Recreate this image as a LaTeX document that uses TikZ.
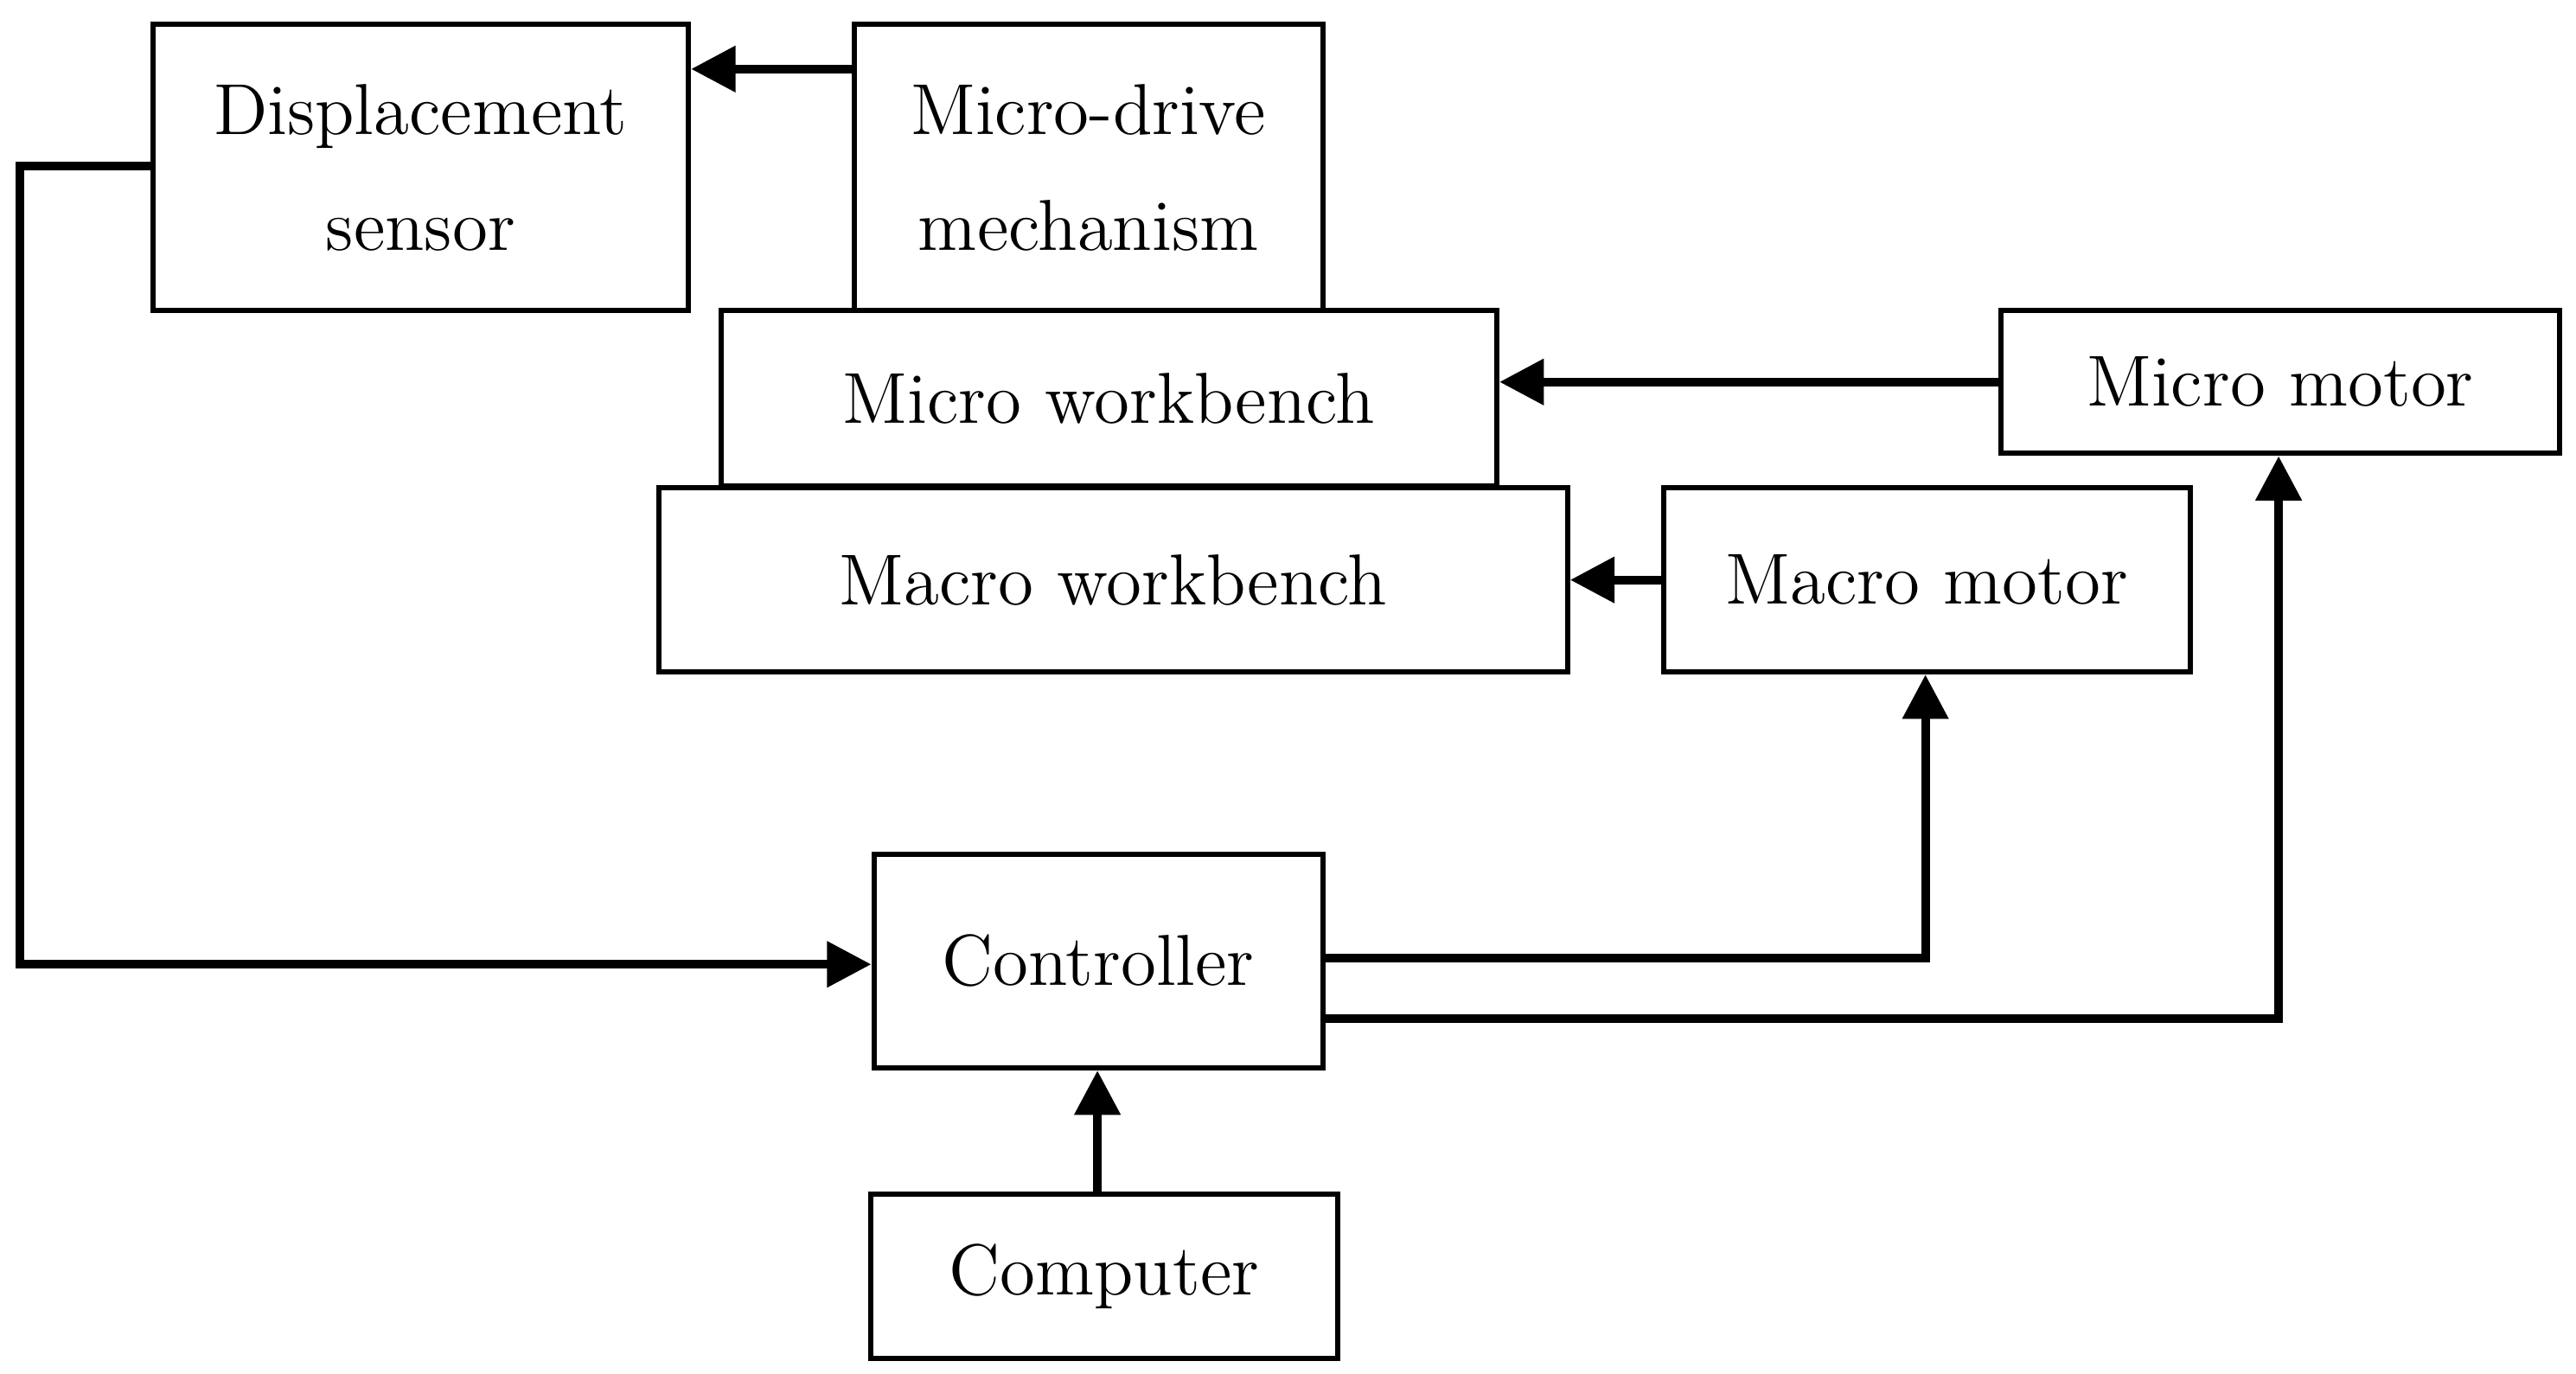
\documentclass[tikz,border=0pt]{standalone}
\usetikzlibrary{arrows.meta}
\begin{document}
\begin{tikzpicture}[x=0.01cm,y=-0.01cm,
  box/.style={draw, line width=0.9pt, inner sep=0pt, align=center, font=\fontsize{12.5}{20}\selectfont},
  arr/.style={line width=1.5pt, -{Triangle[length=0.27cm,width=0.27cm]}}]
\useasboundingbox (0,0) rectangle (1568,836);
\node[box, minimum width=3.26cm, minimum height=1.74cm] (ds) at (256,102) {Displacement\\sensor};
\node[box, minimum width=2.85cm, minimum height=1.74cm] (md) at (662.5,102) {Micro-drive\\mechanism};
\node[box, minimum width=4.72cm, minimum height=1.07cm] (mwb) at (675,242.5) {Micro workbench};
\node[box, minimum width=5.53cm, minimum height=1.12cm] (Mwb) at (677.5,353) {Macro workbench};
\node[box, minimum width=3.40cm, minimum height=0.87cm] (mm) at (1388,232.5) {Micro motor};
\node[box, minimum width=3.20cm, minimum height=1.12cm] (Mm) at (1173,353) {Macro motor};
\node[box, minimum width=2.73cm, minimum height=1.30cm] (ctl) at (668.5,585) {Controller};
\node[box, minimum width=2.84cm, minimum height=1.00cm] (cmp) at (672,777) {Computer};
\draw[arr] (md.west |- 0,42) -- (ds.east |- 0,42);
\draw[arr] (mm.west) -- (mwb.east |- mm.west);
\draw[arr] (Mm.west) -- (Mwb.east);
\draw[arr] (ds.west |- 0,101) -- (12,101) -- (12,587) -- (ctl.west |- 0,587);
\draw[arr] (ctl.east |- 0,583) -- (1172,583) -- (Mm.south -| 1172,0);
\draw[arr] (ctl.east |- 0,620) -- (1387,620) -- (mm.south -| 1387,0);
\draw[arr] (cmp.north -| 668,0) -- (ctl.south -| 668,0);
\end{tikzpicture}
\end{document}
